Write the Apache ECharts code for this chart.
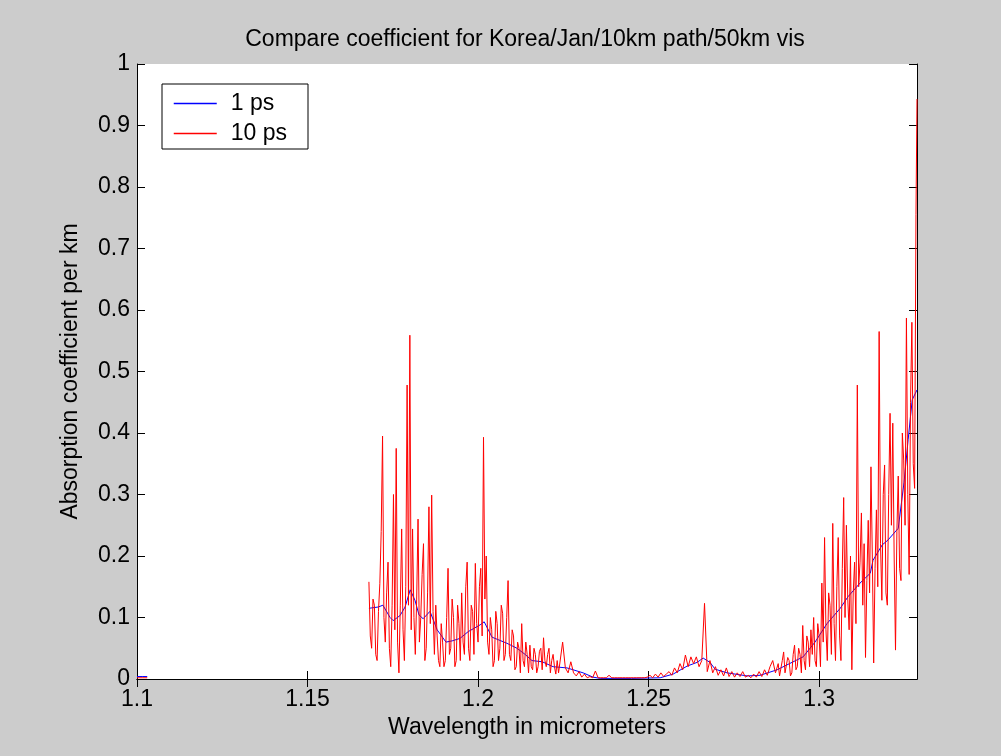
<!DOCTYPE html>
<html>
<head>
<meta charset="utf-8">
<script src="https://cdn.jsdelivr.net/npm/echarts@6/dist/echarts.min.js"></script>
<style>
html,body{margin:0;padding:0;background:#cccccc;}
#chart{width:1001px;height:756px;}
</style>
</head>
<body>
<div id="chart"></div>
<script>
// ---- data ----
const xTicks = [1.1, 1.15, 1.2, 1.25, 1.3];

// 1 ps series
const wl1ps = [1.1000,1.1015,1.1030,1.1350,
  1.1680,1.1707,1.1721,1.1742,1.1751,1.1771,1.1786,1.1801,1.1815,1.1827,1.1839,1.1859,
  1.1880,1.1906,1.1924,1.1947,1.1971,1.2006,1.2018,1.2041,1.2085,1.2114,1.2138,1.2158,
  1.2188,1.2220,1.2261,1.2308,1.2337,1.2358,1.2450,1.2534,1.2572,1.2613,1.2642,1.2660,
  1.2680,1.2695,1.2730,1.2789,1.2827,1.2877,1.2953,1.2988,1.3023,1.3062,1.3085,1.3120,
  1.3150,1.3158,1.3185,1.3202,1.3232,1.3249,1.3261,1.3273,1.3287];
const abs1ps = [0.004,0.004,0.004,null,
  0.115,0.117,0.12,0.10,0.095,0.103,0.117,0.145,0.128,0.104,0.098,0.11,
  0.08,0.06,0.062,0.066,0.077,0.088,0.093,0.068,0.058,0.05,0.04,0.03,
  0.028,0.02,0.018,0.01,0.003,0.001,0.001,0.002,0.008,0.021,0.027,0.034,
  0.027,0.016,0.01,0.005,0.006,0.015,0.036,0.06,0.09,0.115,0.134,0.156,
  0.172,0.193,0.218,0.226,0.245,0.32,0.389,0.454,0.47];

// 10 ps series
const wl10ps = [1.1000,1.1015,1.1030,1.1350,
  1.1680,1.1684,1.1688,1.1692,1.1696,1.1700,1.1704,1.1708,1.1712,1.1716,1.1720,1.1724,1.1728,1.1732,1.1736,1.1740,1.1744,1.1748,1.1752,1.1756,
  1.1760,1.1764,1.1768,1.1772,1.1776,1.1780,1.1784,1.1788,1.1792,1.1796,1.1800,1.1804,1.1808,1.1812,1.1816,1.1820,1.1824,1.1828,1.1832,1.1836,
  1.1840,1.1844,1.1848,1.1852,1.1856,1.1860,1.1864,1.1868,1.1872,1.1876,1.1880,1.1884,1.1888,1.1892,1.1896,1.1900,1.1904,1.1908,1.1912,1.1916,
  1.1920,1.1924,1.1928,1.1932,1.1936,1.1940,1.1944,1.1948,1.1952,1.1956,1.1960,1.1964,1.1968,1.1972,1.1976,1.1980,1.1984,1.1988,1.1992,1.1996,
  1.2000,1.2004,1.2008,1.2012,1.2016,1.2020,1.2024,1.2028,1.2032,1.2036,1.2040,1.2044,1.2048,1.2052,1.2056,1.2060,1.2064,1.2068,1.2072,1.2076,
  1.2080,1.2084,1.2088,1.2092,1.2096,1.2100,1.2104,1.2108,1.2112,1.2116,1.2120,1.2124,1.2128,1.2132,1.2136,1.2140,1.2144,1.2148,1.2152,1.2156,
  1.2160,1.2164,1.2168,1.2172,1.2176,1.2180,1.2184,1.2188,1.2192,1.2196,1.2200,1.2204,1.2208,1.2212,1.2216,1.2220,1.2224,1.2228,1.2232,1.2236,
  1.2240,1.2248,1.2256,1.2264,1.2272,1.2280,1.2288,1.2296,1.2304,1.2312,
  1.2320,1.2328,1.2336,1.2344,1.2352,1.2360,1.2368,1.2376,1.2384,1.2392,
  1.2400,1.2408,1.2416,1.2424,1.2432,1.2440,1.2448,1.2456,1.2464,1.2472,
  1.2480,1.2488,1.2496,1.2504,1.2512,1.2520,1.2528,1.2536,1.2544,1.2552,
  1.2560,1.2568,1.2576,1.2584,1.2592,1.2600,1.2608,1.2616,1.2624,1.2632,
  1.2640,1.2648,1.2656,1.2664,1.2672,1.2680,1.2688,1.2696,1.2704,1.2712,
  1.2720,1.2728,1.2736,1.2744,1.2752,1.2760,1.2768,1.2776,1.2784,1.2792,
  1.2800,1.2808,1.2816,1.2824,1.2832,1.2840,1.2848,1.2856,1.2864,1.2872,
  1.2880,1.2884,1.2888,1.2892,1.2896,1.2900,1.2904,1.2908,1.2912,1.2916,1.2920,1.2924,1.2928,1.2932,1.2936,1.2940,1.2944,1.2948,1.2952,1.2956,
  1.2960,1.2964,1.2968,1.2972,1.2976,1.2980,1.2984,1.2988,1.2992,1.2996,1.3000,1.3004,1.3008,1.3012,1.3016,1.3020,1.3024,1.3028,1.3032,1.3036,
  1.3040,1.3044,1.3048,1.3052,1.3056,1.3060,1.3064,1.3068,1.3072,1.3076,1.3080,1.3084,1.3088,1.3092,1.3096,1.3100,1.3104,1.3108,1.3112,1.3116,
  1.3120,1.3124,1.3128,1.3132,1.3136,1.3140,1.3144,1.3148,1.3152,1.3156,1.3160,1.3164,1.3168,1.3172,1.3176,1.3180,1.3184,1.3188,1.3192,1.3196,
  1.3200,1.3204,1.3208,1.3212,1.3216,1.3220,1.3224,1.3228,1.3232,1.3236,1.3240,1.3244,1.3248,1.3252,1.3256,1.3260,1.3264,1.3268,1.3272,1.3276,
  1.3280,1.3284,1.3287];
const abs10ps = [0.002,0.002,0.002,null,
  0.158,0.07,0.05,0.13,0.12,0.04,0.03,0.11,0.155,0.24,0.395,0.10,0.06,0.14,0.19,0.05,0.02,0.12,0.30,0.08,
  0.375,0.06,0.01,0.12,0.244,0.08,0.03,0.15,0.478,0.12,0.559,0.08,0.244,0.10,0.04,0.13,0.26,0.06,0.10,0.17,
  0.22,0.03,0.05,0.14,0.28,0.09,0.299,0.11,0.04,0.12,0.07,0.03,0.02,0.09,0.06,0.02,0.03,0.10,0.18,0.04,
  0.05,0.13,0.10,0.02,0.03,0.12,0.09,0.03,0.14,0.06,0.04,0.15,0.19,0.05,0.03,0.12,0.11,0.04,0.188,0.09,
  0.06,0.15,0.18,0.07,0.393,0.13,0.20,0.06,0.04,0.10,0.08,0.02,0.03,0.11,0.09,0.03,0.05,0.12,0.107,0.03,
  0.04,0.10,0.16,0.04,0.03,0.08,0.07,0.015,0.02,0.06,0.05,0.01,0.09,0.03,0.02,0.06,0.04,0.01,0.055,0.02,
  0.015,0.05,0.04,0.01,0.02,0.045,0.05,0.015,0.067,0.03,0.02,0.04,0.05,0.01,0.03,0.04,0.02,0.008,0.03,0.01,
  0.01,0.06,0.018,0.01,0.028,0.01,0.005,0.012,0.003,0.008,
  0.002,0.004,0.002,0.013,0.002,0.002,0.002,0.002,0.006,0.002,
  0.002,0.002,0.002,0.002,0.002,0.002,0.002,0.002,0.002,0.002,
  0.002,0.002,0.003,0.006,0.002,0.008,0.003,0.01,0.004,0.008,
  0.012,0.006,0.018,0.01,0.025,0.015,0.039,0.02,0.036,0.025,
  0.036,0.02,0.03,0.123,0.012,0.03,0.01,0.02,0.006,0.015,
  0.005,0.018,0.004,0.012,0.003,0.01,0.004,0.012,0.003,0.006,
  0.002,0.008,0.003,0.012,0.004,0.015,0.006,0.02,0.03,0.01,
  0.025,0.005,0.008,0.03,0.044,0.01,0.012,0.035,0.03,0.005,0.01,0.04,0.055,0.015,0.02,0.05,0.04,0.01,0.087,0.03,
  0.015,0.07,0.06,0.02,0.08,0.04,0.10,0.03,0.02,0.09,0.07,0.02,0.156,0.06,0.23,0.08,0.03,0.14,0.12,0.04,
  0.253,0.09,0.03,0.15,0.23,0.07,0.03,0.18,0.295,0.10,0.25,0.13,0.08,0.20,0.015,0.14,0.19,0.09,0.478,0.15,
  0.19,0.27,0.12,0.22,0.035,0.16,0.258,0.14,0.345,0.20,0.026,0.18,0.275,0.15,0.565,0.22,0.128,0.30,0.348,0.14,
  0.12,0.30,0.432,0.25,0.416,0.20,0.047,0.24,0.33,0.18,0.16,0.40,0.356,0.25,0.587,0.30,0.17,0.45,0.58,0.35,
  0.31,0.755,0.943];

// ---- chart ----
function pairs(xs, ys){ return xs.map((x,i)=>[x, ys[i]===null ? '-' : ys[i]]); }

const FONT = 'Liberation Sans, Arial, sans-serif';
const FS = 23;
const BLUE = '#0000ff', RED = '#ff0000';
const X_MIN = 1.1, X_MAX = 1.3287;
const chart = echarts.init(document.getElementById('chart'), null, {renderer:'canvas'});
const axisLineStyle = {color:'#000', width:1};
chart.setOption({
  backgroundColor:'#cccccc',
  animation:false,
  title:{
    text:'Compare coefficient for Korea/Jan/10km path/50km vis',
    left:520, top:23, textAlign:'center',
    textStyle:{fontFamily:FONT, fontSize:FS, fontWeight:'normal', color:'#000'}
  },
  legend:{
    orient:'vertical', left:162, top:84,
    data:[
      {name:'1 ps', itemStyle:{opacity:0}, lineStyle:{color:BLUE, width:1.5, opacity:1}},
      {name:'10 ps', itemStyle:{opacity:0}, lineStyle:{color:RED, width:1.5, opacity:1}}
    ],
    itemWidth:43, itemHeight:14, itemGap:7,
    padding:[8,21,4,11],
    backgroundColor:'#fff', borderColor:'#000', borderWidth:1, borderRadius:0,
    textStyle:{fontFamily:FONT, fontSize:FS, color:'#000', padding:[0,0,0,9]}
  },
  grid:{left:137, right:84, top:64, bottom:77, show:true, backgroundColor:'#fff', borderWidth:0},
  xAxis:[{
    type:'value', min:X_MIN, max:X_MAX, position:'bottom',
    name:'Wavelength in micrometers', nameLocation:'middle', nameGap:37,
    nameTextStyle:{fontFamily:FONT, fontSize:FS, color:'#000'},
    axisLine:{show:true, lineStyle:axisLineStyle},
    axisTick:{show:true, inside:true, length:8, lineStyle:axisLineStyle, customValues:xTicks},
    axisLabel:{fontFamily:FONT, fontSize:FS, color:'#000', margin:9, customValues:xTicks},
    splitLine:{show:false}
  },{
    type:'value', min:X_MIN, max:X_MAX, position:'top',
    axisLine:{show:true, lineStyle:axisLineStyle},
    axisTick:{show:true, inside:true, length:8, lineStyle:axisLineStyle, customValues:xTicks},
    axisLabel:{show:false},
    splitLine:{show:false}
  }],
  yAxis:[{
    type:'value', min:0, max:1, interval:0.1, position:'left',
    name:'Absorption coefficient per km', nameLocation:'middle', nameGap:55, nameRotate:90,
    nameTextStyle:{fontFamily:FONT, fontSize:FS, color:'#000'},
    axisLine:{show:true, lineStyle:axisLineStyle},
    axisTick:{show:true, inside:true, length:8, lineStyle:axisLineStyle},
    axisLabel:{fontFamily:FONT, fontSize:FS, color:'#000', margin:7},
    splitLine:{show:false}
  },{
    type:'value', min:0, max:1, interval:0.1, position:'right',
    axisLine:{show:true, lineStyle:axisLineStyle},
    axisTick:{show:true, inside:true, length:8, lineStyle:axisLineStyle},
    axisLabel:{show:false},
    splitLine:{show:false}
  }],
  series:[{
    name:'1 ps', type:'line', xAxisIndex:0, yAxisIndex:0,
    data:pairs(wl1ps, abs1ps), symbol:'none', showSymbol:false,
    lineStyle:{color:BLUE, width:1}, itemStyle:{color:BLUE}, connectNulls:false
  },{
    name:'10 ps', type:'line', xAxisIndex:0, yAxisIndex:0,
    data:pairs(wl10ps, abs10ps), symbol:'none', showSymbol:false,
    lineStyle:{color:RED, width:1}, itemStyle:{color:RED}, connectNulls:false
  }]
});
</script>
</body>
</html>
